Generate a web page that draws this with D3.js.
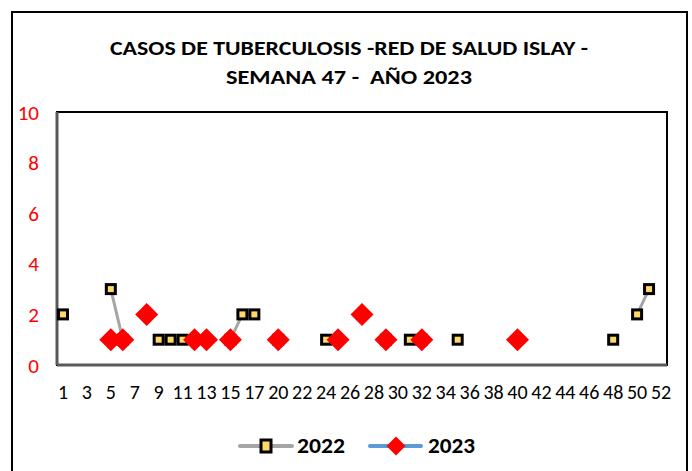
<!DOCTYPE html>
<html>
<head>
<meta charset="utf-8">
<script src="https://cdn.jsdelivr.net/npm/d3@7"></script>
<style>
  html, body { margin: 0; padding: 0; background: #fff; }
  svg { display: block; }
  text { font-family: Carlito, Calibri, "Liberation Sans", Arial, sans-serif; }
</style>
</head>
<body>
<svg id="chart" width="692" height="471"></svg>
<script>
// ---- data ----
const titleLines = ["CASOS DE TUBERCULOSIS -RED DE SALUD ISLAY -", "SEMANA 47 -  AÑO 2023"];
const weeks = [1,2,3,4,5,6,7,8,9,10,11,12,13,14,15,16,17,18,20,21,22,23,24,25,26,27,28,29,30,31,32,33,34,35,36,37,38,39,40,41,42,43,44,45,46,47,48,49,50,51,52];
const xTickLabels = [1,3,5,7,9,11,13,15,17,20,22,24,26,28,30,32,34,36,38,40,42,44,46,48,50,52];
const yTicks = [0,2,4,6,8,10];
const weeks2022 = [1,5,6,9,10,11,15,16,17,20,24,29,31,32,35,48,50,51];
const cases2022 = [2,3,1,1,1,1,1,2,2,1,1,1,1,1,1,1,2,3];
const weeks2023 = [5,6,8,12,13,15,20,25,27,29,32,40];
const cases2023 = [1,1,2,1,1,1,1,1,2,1,1,1];
const seriesNames = ["2022", "2023"];

function fullSeries(ws, vs) {
  const m = new Map(ws.map((w, i) => [w, vs[i]]));
  return weeks.map(w => ({ week: w, value: m.has(w) ? m.get(w) : null }));
}
const s2022 = fullSeries(weeks2022, cases2022);
const s2023 = fullSeries(weeks2023, cases2023);

// ---- layout ----
const svg = d3.select("#chart");
const plot = { left: 57, right: 667, top: 112, bottom: 365 };

// outer border
svg.append("rect").attr("x", 12).attr("y", 12).attr("width", 675).attr("height", 475)
  .attr("fill", "#fff").attr("stroke", "#000").attr("stroke-width", 2);

// title
const titleY = [55, 84];
const titleW = [478, 246];
titleLines.forEach((t, i) => {
  svg.append("text").attr("x", 349).attr("y", titleY[i])
    .attr("text-anchor", "middle").attr("font-weight", "bold").attr("font-size", 21)
    .attr("textLength", titleW[i]).attr("lengthAdjust", "spacingAndGlyphs")
    .style("white-space", "pre").attr("fill", "#000").text(t);
});

const x = d3.scaleBand().domain(weeks).range([plot.left, plot.right]).padding(0);
const cx = w => x(w) + x.bandwidth() / 2;
const y = d3.scaleLinear().domain([0, 10]).range([plot.bottom, plot.top]);

// plot area border
svg.append("rect").attr("x", plot.left).attr("y", plot.top)
  .attr("width", plot.right - plot.left).attr("height", plot.bottom - plot.top)
  .attr("fill", "none").attr("stroke", "#000").attr("stroke-width", 2);

// y axis
svg.append("line").attr("x1", plot.left).attr("x2", plot.left).attr("y1", plot.top).attr("y2", plot.bottom)
  .attr("stroke", "#595959").attr("stroke-width", 3);
svg.append("g").selectAll("text").data(yTicks).join("text")
  .attr("x", 39).attr("y", d => y(d)).attr("dy", "0.36em").attr("text-anchor", "end")
  .attr("fill", "#FF0000").attr("font-size", 21).text(d => d);

// x axis
svg.append("line").attr("x1", plot.left).attr("x2", plot.right).attr("y1", plot.bottom).attr("y2", plot.bottom)
  .attr("stroke", "#595959").attr("stroke-width", 3);
svg.append("g").selectAll("text").data(xTickLabels).join("text")
  .attr("x", d => cx(d)).attr("y", plot.bottom + 27).attr("dy", "0.36em").attr("text-anchor", "middle")
  .attr("fill", "#000").attr("font-size", 20).text(d => d);

// lines
const line = d3.line().defined(d => d.value !== null).x(d => cx(d.week)).y(d => y(d.value));
svg.append("path").datum(s2022).attr("d", line).attr("fill", "none")
  .attr("stroke", "#A5A5A5").attr("stroke-width", 3);
svg.append("path").datum(s2023).attr("d", line).attr("fill", "none")
  .attr("stroke", "#5B9BD5").attr("stroke-width", 3);

// markers 2022 (squares)
const sq = 9;
svg.append("g").selectAll("rect").data(s2022.filter(d => d.value !== null)).join("rect")
  .attr("x", d => cx(d.week) - sq / 2).attr("y", d => y(d.value) - sq / 2)
  .attr("width", sq).attr("height", sq)
  .attr("fill", "#FFD966").attr("stroke", "#000").attr("stroke-width", 3);

// markers 2023 (diamonds)
const dr = 11.5;
const diamond = (px, py, r) => `M${px},${py - r}L${px + r},${py}L${px},${py + r}L${px - r},${py}Z`;
svg.append("g").selectAll("path").data(s2023.filter(d => d.value !== null)).join("path")
  .attr("d", d => diamond(cx(d.week), y(d.value), dr))
  .attr("fill", "#FF0000");

// legend
const ly = 446;
svg.append("line").attr("x1", 240).attr("x2", 292).attr("y1", ly).attr("y2", ly)
  .attr("stroke", "#A5A5A5").attr("stroke-width", 4).attr("stroke-linecap", "round");
svg.append("rect").attr("x", 266 - 5).attr("y", ly - 6).attr("width", 10).attr("height", 12)
  .attr("fill", "#FFD966").attr("stroke", "#000").attr("stroke-width", 3);
svg.append("text").attr("x", 297).attr("y", ly + 7).attr("font-size", 22).attr("font-weight", "bold")
  .attr("textLength", 48).attr("lengthAdjust", "spacingAndGlyphs").text(seriesNames[0]);

svg.append("line").attr("x1", 370).attr("x2", 421).attr("y1", ly).attr("y2", ly)
  .attr("stroke", "#5B9BD5").attr("stroke-width", 4).attr("stroke-linecap", "round");
svg.append("path").attr("d", diamond(396, ly, 9.5)).attr("fill", "#FF0000");
svg.append("text").attr("x", 428).attr("y", ly + 7).attr("font-size", 22).attr("font-weight", "bold")
  .attr("textLength", 47).attr("lengthAdjust", "spacingAndGlyphs").text(seriesNames[1]);
</script>
</body>
</html>
